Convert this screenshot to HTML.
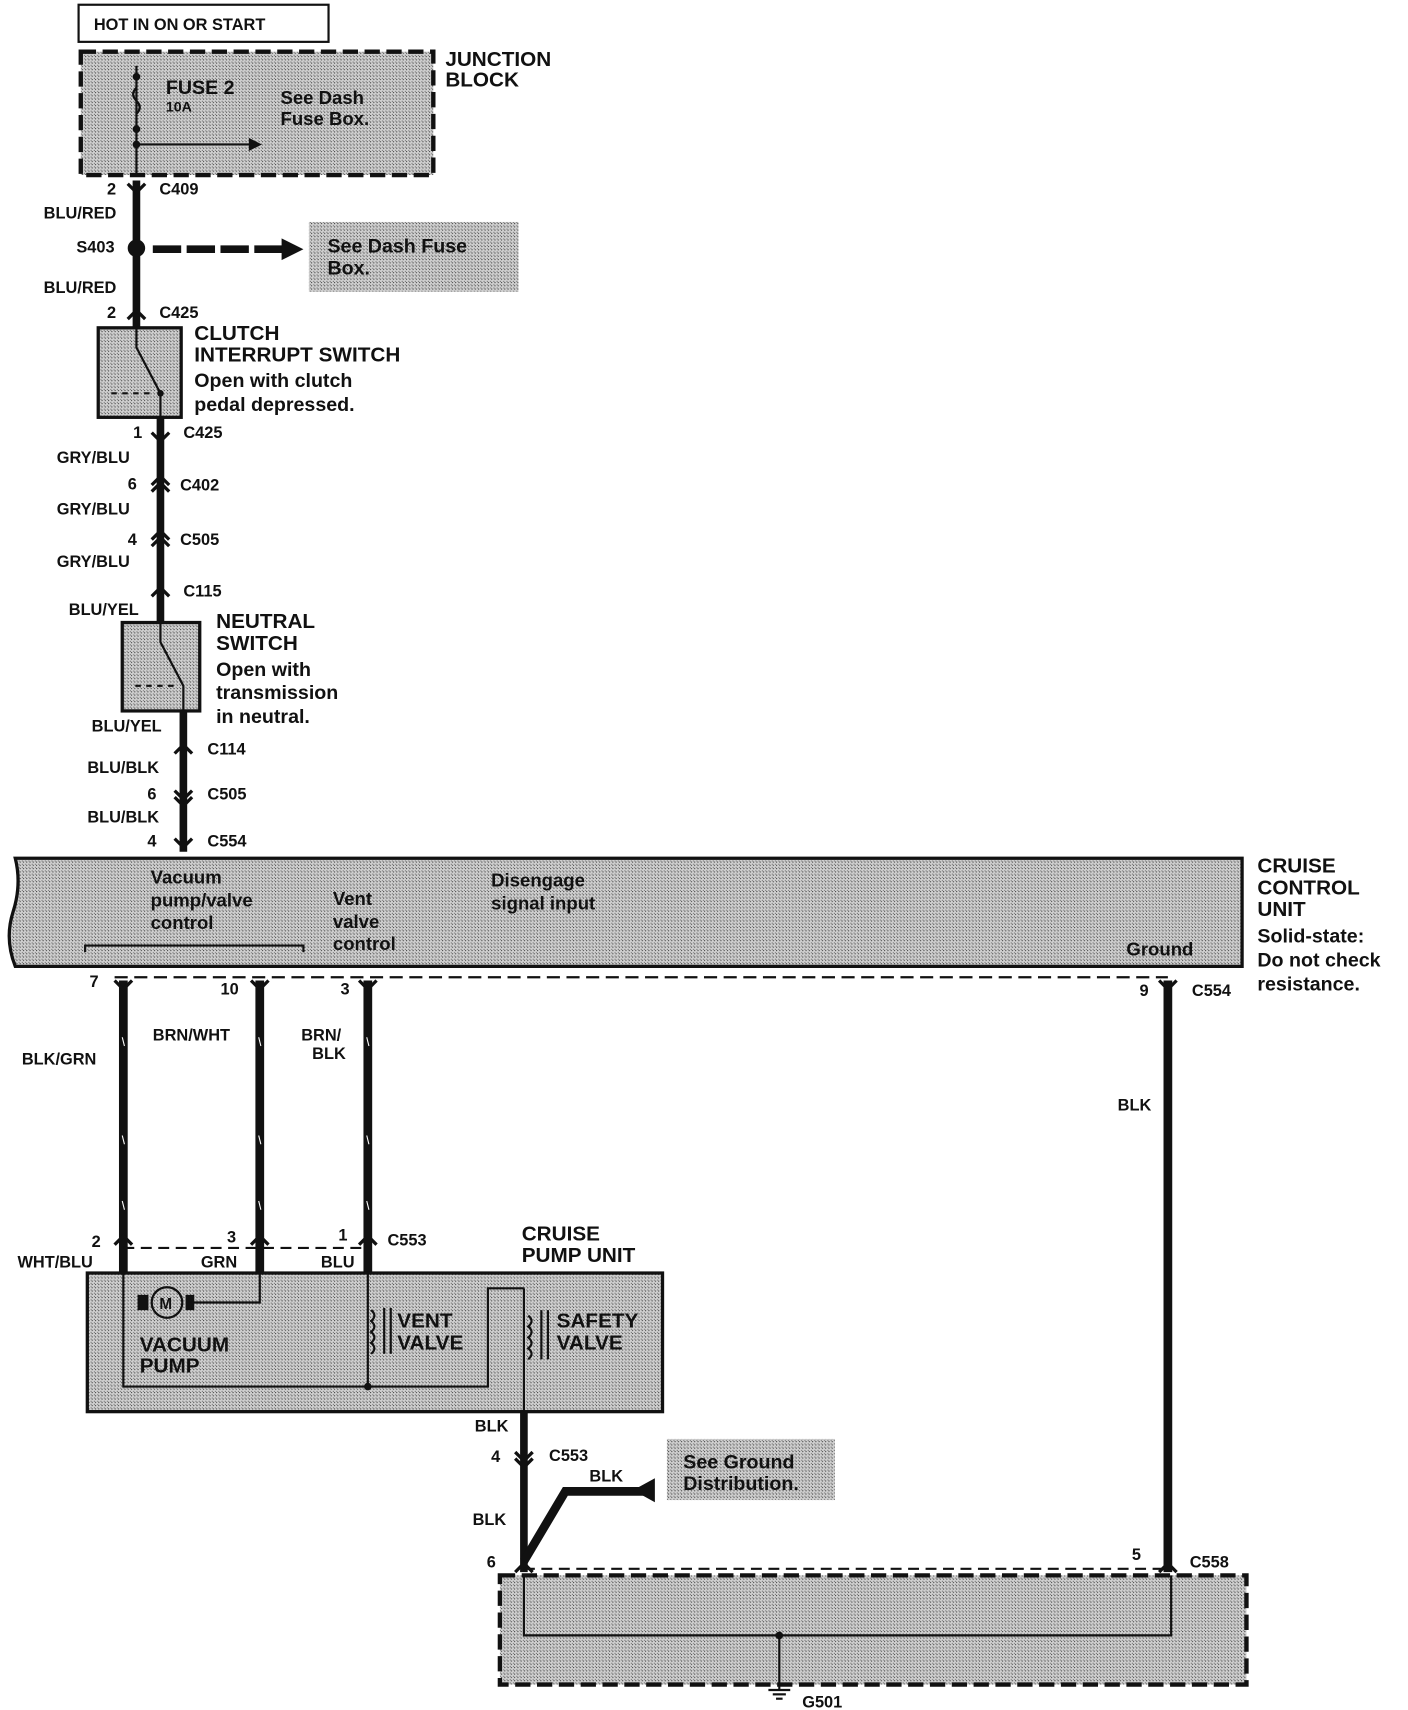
<!DOCTYPE html>
<html><head><meta charset="utf-8"><style>
html,body{margin:0;padding:0;background:#fff}
svg{display:block}
text{font-family:"Liberation Sans",Arial,sans-serif;font-weight:bold;fill:#111}
</style></head><body>
<svg width="1408" height="1710" viewBox="0 0 1290 1566" xmlns="http://www.w3.org/2000/svg">
<defs>
<pattern id="st" width="3" height="3" patternUnits="userSpaceOnUse">
<rect width="3" height="3" fill="#d0d0d0"/><rect width="1" height="1" fill="#444"/><rect x="2" y="2" width="1" height="1" fill="#777"/>
</pattern>
</defs>
<g font-size="15">
<rect x="72" y="4" width="229" height="34" fill="#fff" stroke="#111" stroke-width="2"/>
<text x="86" y="27" font-size="15" font-weight="normal">HOT IN ON OR START</text>
<rect x="74" y="47" width="323" height="113" fill="url(#st)" stroke="#111" stroke-width="4" stroke-dasharray="14,6"/>
<text x="408" y="60" font-size="19">JUNCTION</text><text x="408" y="79" font-size="19">BLOCK</text>
<line x1="125" y1="60" x2="125" y2="160" stroke="#111" stroke-width="2"/>
<path d="M125 80 q-6 6 0 12 q6 6 0 12" fill="none" stroke="#111" stroke-width="2"/>
<circle cx="125" cy="70" r="3.5" fill="#111"/><circle cx="125" cy="118" r="3.5" fill="#111"/><circle cx="125" cy="132" r="3.5" fill="#111"/>
<line x1="125" y1="132" x2="230" y2="132" stroke="#111" stroke-width="2"/><path d="M228 126 L240 132 L228 138Z" fill="#111"/>
<text x="152" y="86" font-size="18">FUSE 2</text><text x="152" y="102" font-size="13">10A</text>
<text x="257" y="95" font-size="17" font-weight="normal">See Dash</text><text x="257" y="114" font-size="17" font-weight="normal">Fuse Box.</text>
<line x1="125" y1="165" x2="125" y2="300" stroke="#111" stroke-width="7"/>
<text x="98" y="178">2</text><text x="146" y="178">C409</text>
<path d="M117 168 L125 176 L133 168" fill="none" stroke="#111" stroke-width="3"/>
<text x="40" y="200">BLU/RED</text>
<circle cx="125" cy="227" r="8" fill="#111"/><text x="70" y="231">S403</text>
<line x1="140" y1="228" x2="262" y2="228" stroke="#111" stroke-width="7" stroke-dasharray="26,5"/>
<path d="M258 218 L278 228 L258 238Z" fill="#111"/>
<rect x="283" y="203" width="192" height="64" fill="url(#st)"/>
<text x="300" y="231" font-size="18" font-weight="normal">See Dash Fuse</text><text x="300" y="251" font-size="18" font-weight="normal">Box.</text>
<text x="40" y="268">BLU/RED</text>
<text x="98" y="291">2</text><text x="146" y="291">C425</text>
<path d="M117 292 L125 284 L133 292" fill="none" stroke="#111" stroke-width="3"/>
<rect x="90" y="300" width="76" height="82" fill="url(#st)" stroke="#111" stroke-width="3"/>
<path d="M125 300 L125 318 L147 360 L147 382" fill="none" stroke="#111" stroke-width="2"/>
<line x1="102" y1="360" x2="140" y2="360" stroke="#111" stroke-width="2" stroke-dasharray="5,5"/>
<circle cx="147" cy="360" r="3" fill="#111"/>
<text x="178" y="311" font-size="19">CLUTCH</text><text x="178" y="331" font-size="19">INTERRUPT SWITCH</text>
<text x="178" y="354" font-size="18" font-weight="normal">Open with clutch</text><text x="178" y="376" font-size="18" font-weight="normal">pedal depressed.</text>
<line x1="147" y1="382" x2="147" y2="570" stroke="#111" stroke-width="7"/>
<text x="122" y="401">1</text><text x="168" y="401">C425</text>
<text x="52" y="424">GRY/BLU</text>
<text x="117" y="448">6</text><text x="165" y="449">C402</text>
<text x="52" y="471">GRY/BLU</text>
<text x="117" y="499">4</text><text x="165" y="499">C505</text>
<text x="52" y="519">GRY/BLU</text>
<text x="168" y="546">C115</text>
<text x="63" y="563">BLU/YEL</text>
<g stroke="#111" stroke-width="3" fill="none">
<path d="M139 396 L147 404 L155 396"/><path d="M139 444 L147 436 L155 444"/><path d="M139 450 L147 442 L155 450"/>
<path d="M139 494 L147 486 L155 494"/><path d="M139 500 L147 492 L155 500"/><path d="M139 546 L147 538 L155 546"/>
</g>
<rect x="112" y="570" width="71" height="81" fill="url(#st)" stroke="#111" stroke-width="3"/>
<path d="M147 570 L147 588 L168 628 L168 651" fill="none" stroke="#111" stroke-width="2"/>
<line x1="124" y1="628" x2="162" y2="628" stroke="#111" stroke-width="2" stroke-dasharray="5,5"/>
<text x="198" y="575" font-size="19">NEUTRAL</text><text x="198" y="595" font-size="19">SWITCH</text>
<text x="198" y="619" font-size="18" font-weight="normal">Open with</text><text x="198" y="640" font-size="18" font-weight="normal">transmission</text><text x="198" y="662" font-size="18" font-weight="normal">in neutral.</text>
<line x1="168" y1="651" x2="168" y2="780" stroke="#111" stroke-width="7"/>
<text x="84" y="670">BLU/YEL</text>
<text x="190" y="691">C114</text>
<text x="80" y="708">BLU/BLK</text>
<text x="135" y="732">6</text><text x="190" y="732">C505</text>
<text x="80" y="753">BLU/BLK</text>
<text x="135" y="775">4</text><text x="190" y="775">C554</text>
<g stroke="#111" stroke-width="3" fill="none">
<path d="M160 690 L168 682 L176 690"/><path d="M160 724 L168 732 L176 724"/><path d="M160 730 L168 738 L176 730"/>
<path d="M160 768 L168 776 L176 768"/>
</g>
<path d="M14 786 L1138 786 L1138 885 L14 885 Q4 860 12 835 Q20 810 14 786Z" fill="url(#st)" stroke="#111" stroke-width="3"/>
<text x="1152" y="799" font-size="19">CRUISE</text><text x="1152" y="819" font-size="19">CONTROL</text><text x="1152" y="839" font-size="19">UNIT</text>
<text x="1152" y="863" font-size="18" font-weight="normal">Solid-state:</text><text x="1152" y="885" font-size="18" font-weight="normal">Do not check</text><text x="1152" y="907" font-size="18" font-weight="normal">resistance.</text>
<g font-size="17" font-weight="normal">
<text x="138" y="809">Vacuum</text><text x="138" y="830">pump/valve</text><text x="138" y="851">control</text>
<text x="305" y="829">Vent</text><text x="305" y="850">valve</text><text x="305" y="870">control</text>
<text x="450" y="812">Disengage</text><text x="450" y="833">signal input</text>
<text x="1032" y="875">Ground</text>
</g>
<path d="M78 872 L78 866 L278 866 L278 872" fill="none" stroke="#111" stroke-width="2"/>
<line x1="105" y1="895" x2="1070" y2="895" stroke="#111" stroke-width="2" stroke-dasharray="12,6"/>
<g stroke="#111" stroke-width="8">
<line x1="113" y1="898" x2="113" y2="1166"/><line x1="238" y1="898" x2="238" y2="1166"/><line x1="337" y1="898" x2="337" y2="1166"/>
<line x1="1070" y1="898" x2="1070" y2="1440"/>
</g>
<g stroke="#fff" stroke-width="1">
<line x1="112" y1="950" x2="114" y2="958"/><line x1="112" y1="1040" x2="114" y2="1048"/><line x1="112" y1="1100" x2="114" y2="1108"/>
<line x1="237" y1="950" x2="239" y2="958"/><line x1="237" y1="1040" x2="239" y2="1048"/><line x1="237" y1="1100" x2="239" y2="1108"/>
<line x1="336" y1="950" x2="338" y2="958"/><line x1="336" y1="1040" x2="338" y2="1048"/><line x1="336" y1="1100" x2="338" y2="1108"/>
</g>
<text x="82" y="904">7</text><text x="202" y="911">10</text><text x="312" y="911">3</text>
<text x="1044" y="912">9</text><text x="1092" y="912">C554</text>
<text x="20" y="975">BLK/GRN</text><text x="140" y="953">BRN/WHT</text>
<text x="276" y="953">BRN/</text><text x="286" y="970">BLK</text>
<text x="1024" y="1017">BLK</text>
<g stroke="#111" stroke-width="3" fill="none">
<path d="M105 898 L113 906 L121 898"/><path d="M230 898 L238 906 L246 898"/><path d="M329 898 L337 906 L345 898"/><path d="M1062 898 L1070 906 L1078 898"/>
<path d="M105 1140 L113 1132 L121 1140"/><path d="M230 1140 L238 1132 L246 1140"/><path d="M329 1140 L337 1132 L345 1140"/>
</g>
<line x1="113" y1="1143" x2="337" y2="1143" stroke="#111" stroke-width="2" stroke-dasharray="10,6"/>
<text x="84" y="1142">2</text><text x="208" y="1138">3</text><text x="310" y="1136">1</text><text x="355" y="1141">C553</text>
<text x="16" y="1161">WHT/BLU</text><text x="184" y="1161">GRN</text><text x="294" y="1161">BLU</text>
<text x="478" y="1136" font-size="19">CRUISE</text><text x="478" y="1156" font-size="19">PUMP UNIT</text>
<rect x="80" y="1166" width="527" height="127" fill="url(#st)" stroke="#111" stroke-width="3"/>
<g stroke="#111" stroke-width="2" fill="none">
<path d="M113 1166 L113 1270 L447 1270 L447 1180 L480 1180"/>
<path d="M238 1166 L238 1193 L175 1193"/>
<circle cx="153" cy="1193" r="14"/>
<line x1="337" y1="1166" x2="337" y2="1270"/>
<path d="M340 1200 q6 5 0 10 q6 5 0 10 q6 5 0 10 q6 5 0 10"/>
<line x1="352" y1="1198" x2="352" y2="1240"/><line x1="358" y1="1198" x2="358" y2="1240"/>
<line x1="480" y1="1180" x2="480" y2="1293"/>
<path d="M484 1205 q6 5 0 10 q6 5 0 10 q6 5 0 10 q6 5 0 10"/>
<line x1="496" y1="1200" x2="496" y2="1245"/><line x1="502" y1="1200" x2="502" y2="1245"/>
</g>
<rect x="126" y="1186" width="10" height="14" fill="#111"/><rect x="170" y="1186" width="8" height="14" fill="#111"/>
<text x="146" y="1199" font-size="14" font-weight="normal">M</text>
<circle cx="337" cy="1270" r="3.5" fill="#111"/>
<text x="128" y="1238" font-size="19">VACUUM</text><text x="128" y="1257" font-size="19">PUMP</text>
<text x="364" y="1216" font-size="19">VENT</text><text x="364" y="1236" font-size="19">VALVE</text>
<text x="510" y="1216" font-size="19">SAFETY</text><text x="510" y="1236" font-size="19">VALVE</text>
<line x1="480" y1="1293" x2="480" y2="1440" stroke="#111" stroke-width="7"/>
<text x="435" y="1311">BLK</text>
<text x="450" y="1339">4</text><text x="503" y="1338">C553</text>
<g stroke="#111" stroke-width="3" fill="none"><path d="M472 1330 L480 1338 L488 1330"/><path d="M472 1336 L480 1344 L488 1336"/><path d="M472 1440 L480 1432 L488 1440"/><path d="M1062 1440 L1070 1432 L1078 1440"/></g>
<path d="M480 1430 L518 1366 L590 1366" fill="none" stroke="#111" stroke-width="8"/>
<path d="M600 1354 L580 1365 L600 1376Z" fill="#111"/>
<text x="540" y="1357">BLK</text>
<rect x="611" y="1318" width="154" height="56" fill="url(#st)"/>
<text x="626" y="1345" font-size="18" font-weight="normal">See Ground</text><text x="626" y="1365" font-size="18" font-weight="normal">Distribution.</text>
<text x="433" y="1397">BLK</text>
<text x="446" y="1436">6</text><text x="1037" y="1429">5</text><text x="1090" y="1436">C558</text>
<rect x="458" y="1443" width="684" height="100" fill="url(#st)" stroke="#111" stroke-width="4" stroke-dasharray="14,6"/>
<line x1="480" y1="1437" x2="1070" y2="1437" stroke="#111" stroke-width="2" stroke-dasharray="10,6"/>
<path d="M480 1443 L480 1498 L1073 1498 L1073 1443" fill="none" stroke="#111" stroke-width="2"/>
<circle cx="714" cy="1498" r="3.5" fill="#111"/>
<line x1="714" y1="1498" x2="714" y2="1548" stroke="#111" stroke-width="2"/>
<line x1="704" y1="1548" x2="724" y2="1548" stroke="#111" stroke-width="2"/>
<line x1="708" y1="1552" x2="720" y2="1552" stroke="#111" stroke-width="2"/>
<line x1="711" y1="1556" x2="717" y2="1556" stroke="#111" stroke-width="2"/>
<text x="735" y="1564">G501</text>
</g>
</svg>
</body></html>
